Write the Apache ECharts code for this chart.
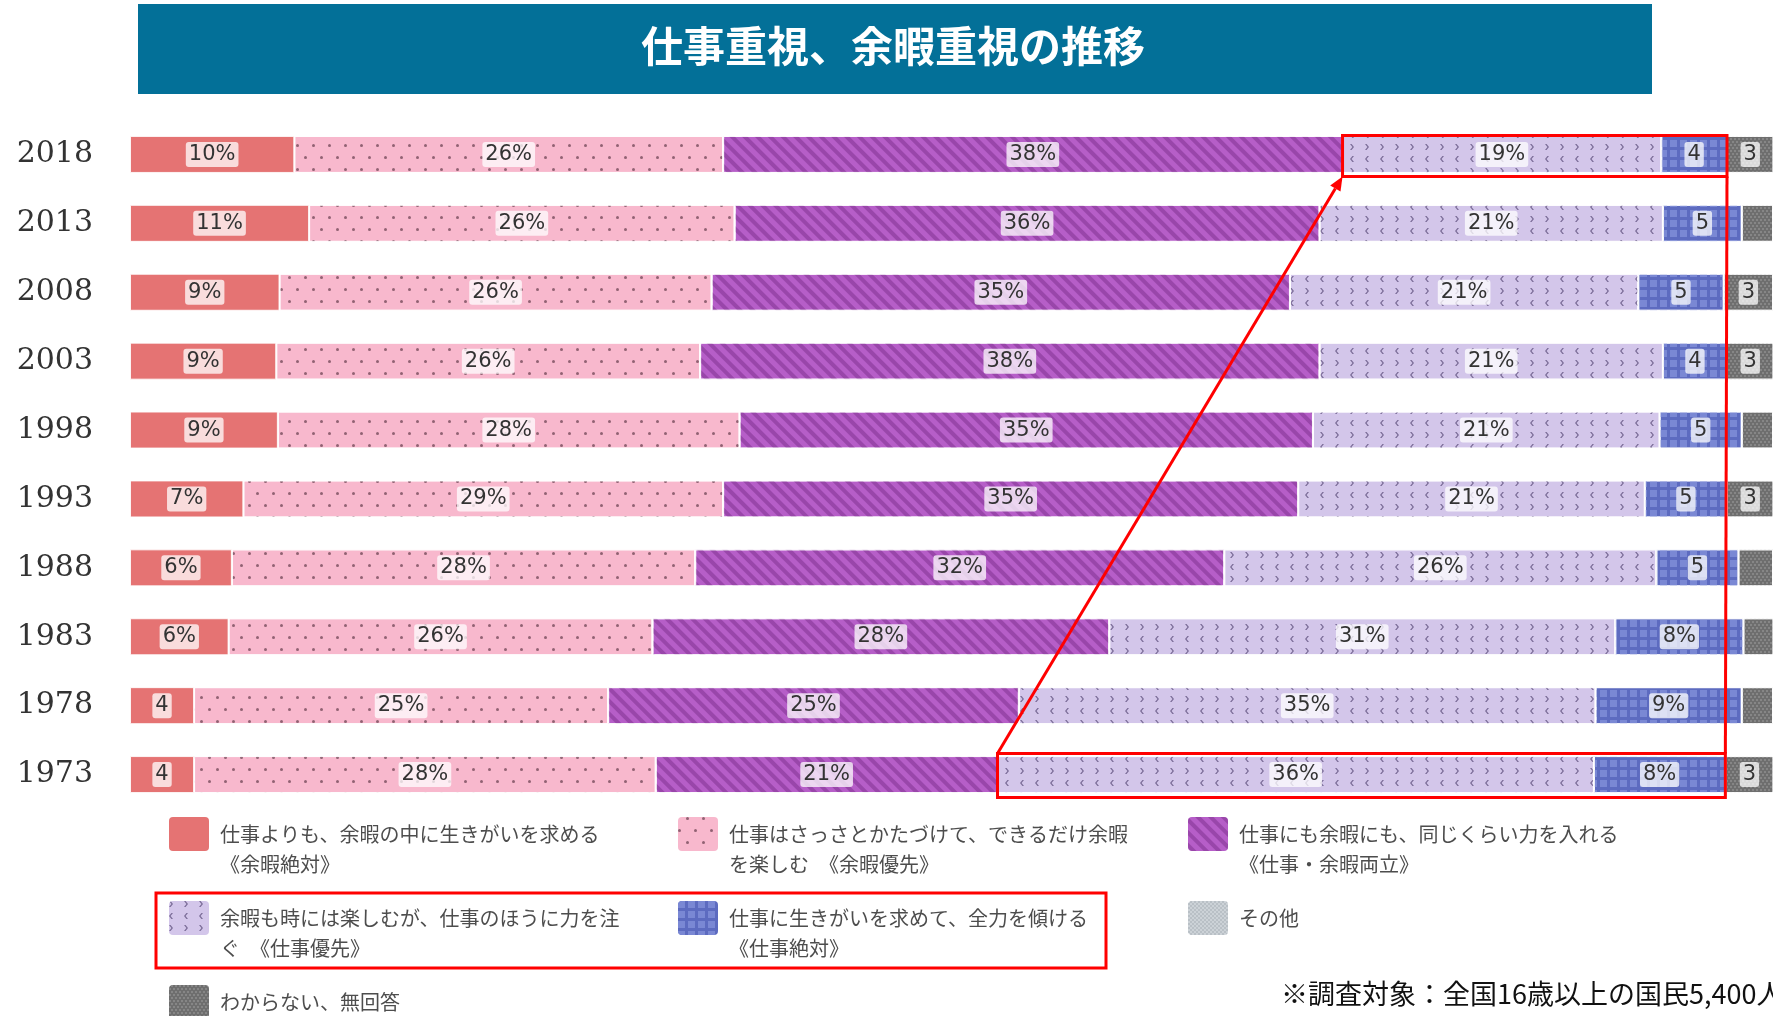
<!DOCTYPE html>
<html lang="ja">
<head>
<meta charset="UTF-8">
<title>仕事重視、余暇重視の推移</title>
<style>
  html, body { margin: 0; padding: 0; background: #fff; }
  #main { width: 1773px; height: 1016px; }
</style>
</head>
<body>
<div id="main"></div>
<script src="https://cdn.jsdelivr.net/npm/echarts@6/dist/echarts.min.js"></script>
<script type="text/javascript">
// 調査年（上から順）
var years = ['2018', '2013', '2008', '2003', '1998', '1993', '1988', '1983', '1978', '1973'];

// 凡例の文言（2行目は改行）
var names = [
    '仕事よりも、余暇の中に生きがいを求める\n《余暇絶対》',
    '仕事はさっさとかたづけて、できるだけ余暇\nを楽しむ　《余暇優先》',
    '仕事にも余暇にも、同じくらい力を入れる\n《仕事・余暇両立》',
    '余暇も時には楽しむが、仕事のほうに力を注\nぐ　《仕事優先》',
    '仕事に生きがいを求めて、全力を傾ける\n《仕事絶対》',
    'その他',
    'わからない、無回答'
];

// 各回答の割合（%）
var yokaZettai    = [10.0, 10.9,  9.1,  8.9,  9.0,  6.9,  6.2,  6.0,  3.9,  3.9];
var yokaYusen     = [26.1, 25.9, 26.3, 25.8, 28.1, 29.2, 28.2, 25.8, 25.2, 28.1];
var ryoritsu      = [37.7, 35.6, 35.2, 37.7, 34.9, 35.0, 32.2, 27.8, 25.0, 20.8];
var shigotoYusen  = [19.4, 20.9, 21.2, 20.9, 21.1, 21.1, 26.3, 30.8, 35.1, 36.3];
var shigotoZettai = [ 4.0,  4.8,  5.2,  3.9,  5.0,  5.0,  5.0,  7.8,  8.9,  8.0];
var sonota        = [ 0,    0,    0,    0,    0,    0,    0,    0,    0,    0  ];
var wakaranai     = [ 3.0,  1.9,  3.0,  3.0,  1.9,  3.0,  2.1,  1.9,  1.9,  3.0];

var seriesData = [yokaZettai, yokaYusen, ryoritsu, shigotoYusen, shigotoZettai, sonota, wakaranai];

var colors = ['#e57373', '#f8b8cd', '#b65ec8', '#d3c6ea', '#5d6bc0', '#ccd2d7', '#6e6e6e'];

// 模様（デカール）
var decals = [
    null,
    {   // 水玉
        symbol: 'circle', symbolSize: 1, color: 'rgba(105,65,80,0.72)',
        dashArrayX: [[3, 13], [0, 8, 3, 5]], dashArrayY: [3, 9], rotation: 0
    },
    {   // 斜線
        symbol: 'rect', symbolSize: 1, color: 'rgba(110,35,125,0.4)',
        dashArrayX: [1, 0], dashArrayY: [4, 5], rotation: Math.PI / 4
    },
    {   // ジグザグ
        symbol: 'path://M0,0L1.6,0L4,3L1.6,6L0,6L2.4,3Z M4,12L2.4,12L0,15L2.4,18L4,18L1.6,15Z',
        symbolSize: 1, color: 'rgba(95,80,125,0.75)',
        dashArrayX: [4, 11], dashArrayY: [18, 6], rotation: 0
    },
    {   // 格子
        symbol: 'rect', symbolSize: 1, color: '#7a88d4',
        dashArrayX: [7, 3], dashArrayY: [7, 3], rotation: 0
    },
    {
        symbol: 'rect', symbolSize: 1, color: 'rgba(185,192,198,1)',
        dashArrayX: [[2, 2], [0, 2, 2, 0]], dashArrayY: [2, 0], rotation: 0
    },
    {
        symbol: 'circle', symbolSize: 1, color: 'rgba(150,150,150,0.8)',
        dashArrayX: [[2, 2], [0, 2, 2, 0]], dashArrayY: [2, 1], rotation: 0
    }
];

function labelText(p) {
    var r = Math.round(p.value);
    return r <= 5 ? String(r) : r + '%';
}

var series = names.map(function (n, i) {
    var itemStyle = { color: colors[i], borderColor: 'rgba(255,255,255,0.85)', borderWidth: 1 };
    if (decals[i]) itemStyle.decal = decals[i];
    return {
        name: n,
        type: 'bar',
        stack: 'total',
        barWidth: 37,
        // 小さすぎる値はラベルなし
        data: seriesData[i].map(function (v) {
            return { value: v, label: { show: v >= 2.5 } };
        }),
        itemStyle: itemStyle,
        label: {
            show: true,
            position: 'inside',
            formatter: labelText,
            fontFamily: 'DejaVu Sans',
            fontSize: 21,
            color: '#333',
            backgroundColor: 'rgba(255,255,255,0.75)',
            borderRadius: 3,
            padding: [2, 3]
        }
    };
});

var legendPos = [[169, 817], [678, 817], [1188, 817], [169, 901], [678, 901], [1188, 901], [169, 985]];
var legendIcon = 'path://M4,0H36A4,4,0,0,1,40,4V30A4,4,0,0,1,36,34H4A4,4,0,0,1,0,30V4A4,4,0,0,1,4,0Z';

var legends = names.map(function (n, i) {
    var two = n.indexOf('\n') >= 0;
    return {
        data: [n],
        left: legendPos[i][0],
        top: legendPos[i][1] - (two ? 28 : 0),
        padding: 0,
        itemWidth: 40,
        itemHeight: 34,
        icon: legendIcon,
        selectedMode: false,
        itemStyle: { borderWidth: 0 },
        // 1行目をアイコンの中心に合わせるため、先頭に空行を足す
        formatter: function (name) {
            return name.indexOf('\n') >= 0 ? ' \n' + name : name;
        },
        textStyle: {
            fontFamily: 'Noto Sans CJK JP',
            fontSize: 20,
            lineHeight: 30,
            color: '#4d4d4d',
            padding: [0, 0, 0, 6]
        }
    };
});

var myChart = echarts.init(document.getElementById('main'));

var option = {
    animation: false,
    title: [
        {
            text: '仕事重視、余暇重視の推移',
            left: 641, top: 25, padding: 0,
            textStyle: { color: '#fff', fontSize: 42, fontWeight: 'bold', fontFamily: 'Noto Sans CJK JP' }
        },
        {
            text: '※調査対象：全国16歳以上の国民5,400人',
            left: 1281, top: 980, padding: 0,
            textStyle: { color: '#111', fontSize: 27, fontWeight: 'normal', fontFamily: 'Noto Sans CJK JP' }
        }
    ],
    legend: legends,
    grid: { left: 130, right: 0, top: 120, bottom: 207 },
    xAxis: {
        type: 'value', min: 0, max: 100, show: false
    },
    yAxis: {
        type: 'category',
        data: years,
        inverse: true,
        axisLine: { show: false },
        axisTick: { show: false },
        axisLabel: { fontFamily: 'DejaVu Serif', fontSize: 30, color: '#333', margin: 37 }
    },
    series: series
};
myChart.setOption(option);

// 赤枠・矢印（データ位置から計算）
function cum(row, upto) {
    var s = 0;
    for (var k = 0; k < upto; k++) s += seriesData[k][row];
    return s;
}
function px(x, row) {
    return myChart.convertToPixel({ gridIndex: 0 }, [x, years[row]]);
}
var rTop = 0, rBot = years.length - 1;
var a0 = px(cum(rTop, 3), rTop), a1 = px(cum(rTop, 5), rTop);
var b0 = px(cum(rBot, 3), rBot), b1 = px(cum(rBot, 5), rBot);
var red = '#ff0000';
var boxTopA = a0[1] - 19, boxBotA = a0[1] + 22;
var boxTopB = b0[1] - 21, boxBotB = b0[1] + 23;

var tail = [b0[0], boxTopB], tip = [a0[0], boxBotA];
var ang = Math.atan2(tip[1] - tail[1], tip[0] - tail[0]);
var hl = 14, hw = 6;
var base = [tip[0] - hl * Math.cos(ang), tip[1] - hl * Math.sin(ang)];
var head = [
    tip,
    [base[0] + hw * Math.sin(ang), base[1] - hw * Math.cos(ang)],
    [base[0] - hw * Math.sin(ang), base[1] + hw * Math.cos(ang)]
];

myChart.setOption({
    graphic: [
        { type: 'rect', z: 0, shape: { x: 138, y: 4, width: 1514, height: 90 }, style: { fill: '#037098' } },
        { type: 'rect', z: 100, shape: { x: a0[0], y: boxTopA, width: a1[0] - a0[0], height: boxBotA - boxTopA }, style: { fill: 'none', stroke: red, lineWidth: 3 } },
        { type: 'rect', z: 100, shape: { x: b0[0], y: boxTopB, width: b1[0] - b0[0], height: boxBotB - boxTopB }, style: { fill: 'none', stroke: red, lineWidth: 3 } },
        { type: 'line', z: 100, shape: { x1: a1[0], y1: boxBotA, x2: b1[0], y2: boxTopB }, style: { stroke: red, lineWidth: 3 } },
        { type: 'line', z: 100, shape: { x1: tail[0], y1: tail[1], x2: base[0], y2: base[1] }, style: { stroke: red, lineWidth: 3 } },
        { type: 'polygon', z: 100, shape: { points: head }, style: { fill: red } },
        { type: 'rect', z: 100, shape: { x: 156, y: 893, width: 950, height: 75 }, style: { fill: 'none', stroke: red, lineWidth: 3 } }
    ]
});
</script>
</body>
</html>
